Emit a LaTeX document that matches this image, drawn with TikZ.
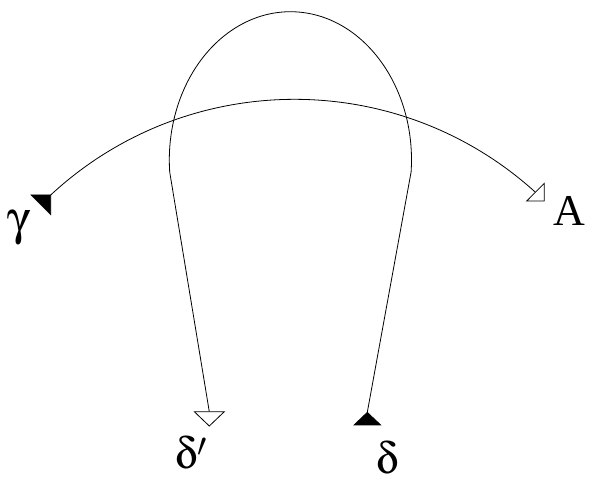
\documentclass[tikz,border=0pt]{standalone}
\usepackage[Symbol]{upgreek}
\usepackage{fontspec}
\setmainfont{Liberation Serif}
\begin{document}
\begin{tikzpicture}[x=0.75pt,y=0.75pt,
  curve/.style={draw=black,line width=0.6pt},
  headfill/.style={fill=black,draw=black,line width=0.5pt,line join=miter},
  headopen/.style={fill=white,draw=black,line width=0.6pt,line join=miter},
  lbl/.style={inner sep=0pt,anchor=base west,font=\fontsize{33pt}{36pt}\selectfont}]
\useasboundingbox (0,0) rectangle (597,493);
% connector end points
\coordinate (g) at (50.7,298);
\coordinate (a) at (535.5,300.8);
\coordinate (d) at (367.3,80.7);
\coordinate (dp) at (209.3,81.3);
\coordinate (rj) at (411.1,321);
% arc gamma -> A
\draw[curve] (g) arc[start angle=132.85, end angle=47.8, radius=358.6];
% loop delta -> delta'
\draw[curve] (d) -- (rj) arc[start angle=-4.64, end angle=184.64, x radius=121.1, y radius=148.3] -- (dp);
% arrow heads
\path[headfill] (g) -- (31,298) -- (50.7,278.3) -- cycle;
\path[headopen] (526.7,292) -- (544.3,292) -- (544.3,309.7) -- cycle;
\path[headopen] (194.3,81.3) -- (224.3,81.3) -- (209.3,67) -- cycle;
\path[headfill] (d) -- (354,68) -- (380.7,68) -- cycle;
% labels
\node[lbl,font=\fontsize{36pt}{40pt}\selectfont] (lg) at (7,258) {$\upgamma$};
\node[lbl] (la) at (553,267) {A};
\node[lbl] (ldp) at (175,24) {$\updelta'$};
\node[lbl] (ld) at (376,19) {$\updelta$};
\end{tikzpicture}
\end{document}
